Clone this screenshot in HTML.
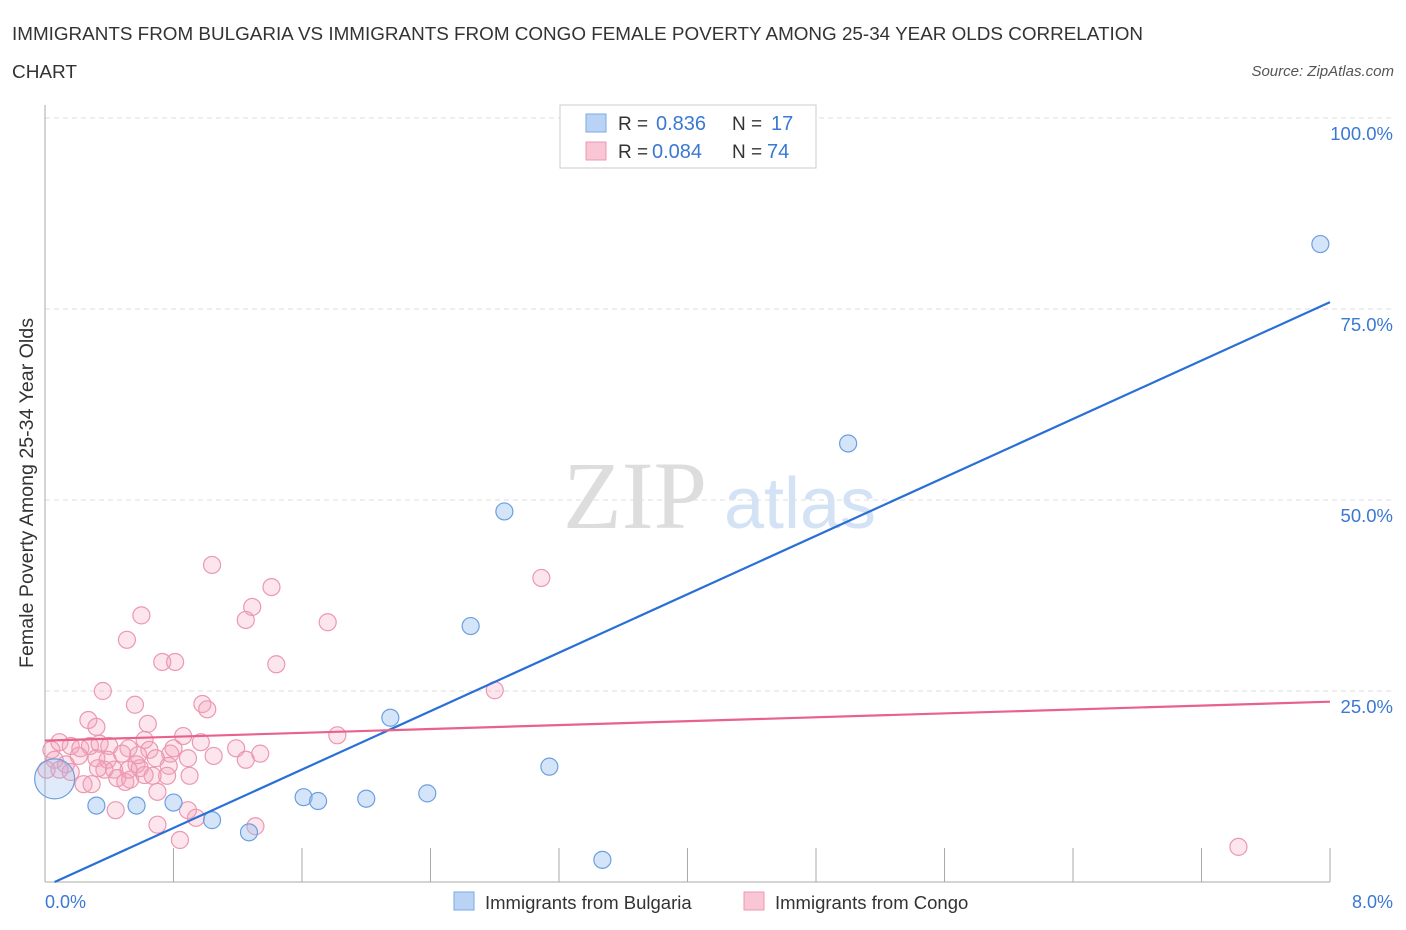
<!DOCTYPE html>
<html><head><meta charset="utf-8"><style>
body{margin:0;background:#fff;font-family:"Liberation Sans",sans-serif;}
svg{display:block}
</style></head><body>
<svg width="1406" height="930" xmlns="http://www.w3.org/2000/svg">
<text x="12" y="40" font-size="18" fill="#333" textLength="1131" lengthAdjust="spacingAndGlyphs">IMMIGRANTS FROM BULGARIA VS IMMIGRANTS FROM CONGO FEMALE POVERTY AMONG 25-34 YEAR OLDS CORRELATION</text>
<text x="12" y="78" font-size="18" fill="#333" textLength="65" lengthAdjust="spacingAndGlyphs">CHART</text>
<text x="1394" y="76" font-size="15" fill="#555" font-style="italic" text-anchor="end">Source: ZipAtlas.com</text>
<text x="635" y="528" font-size="96" fill="#ddd" font-family="Liberation Serif,serif" text-anchor="middle">ZIP</text>
<text x="800" y="528" font-size="72" fill="#d3e2f5" text-anchor="middle">atlas</text>
<g id="grid"></g>
<g id="marks"></g>
<text x="33" y="493" font-size="19" fill="#333" text-anchor="middle" textLength="350" lengthAdjust="spacingAndGlyphs" transform="rotate(-90 33 493)">Female Poverty Among 25-34 Year Olds</text>
<text x="45" y="908" font-size="18" fill="#3a78d4">0.0%</text>
<text x="1393" y="908" font-size="18" fill="#3a78d4" text-anchor="end">8.0%</text>
<g>
<rect x="560" y="105" width="256" height="63" fill="#fff" stroke="#ccc"/>
<rect x="586" y="114" width="20" height="18" fill="#b9d3f5" stroke="#7aa8e6"/>
<rect x="586" y="142" width="20" height="18" fill="#f8c6d4" stroke="#eb98b2"/>
<text x="618" y="130" font-size="19" fill="#333">R =</text>
<text x="656" y="130" font-size="20" fill="#3a78d4">0.836</text>
<text x="732" y="130" font-size="19" fill="#333">N =</text>
<text x="771" y="130" font-size="20" fill="#3a78d4">17</text>
<text x="618" y="158" font-size="19" fill="#333">R =</text>
<text x="652" y="158" font-size="20" fill="#3a78d4">0.084</text>
<text x="732" y="158" font-size="19" fill="#333">N =</text>
<text x="767" y="158" font-size="20" fill="#3a78d4">74</text>
</g>
<g>
<rect x="454" y="892" width="20" height="18" fill="#b9d3f5" stroke="#7aa8e6"/>
<text x="485" y="909" font-size="18.5" fill="#333">Immigrants from Bulgaria</text>
<rect x="744" y="892" width="20" height="18" fill="#f8c6d4" stroke="#eb98b2"/>
<text x="775" y="909" font-size="18.5" fill="#333">Immigrants from Congo</text>
</g>
</svg>
<script>
const yTicks=[25,50,75,100];
const yTickLabels=["25.0%","50.0%","75.0%","100.0%"];
const bulgariaX=[7.94,5.0,2.86,2.65,2.15,3.14,0.32,0.57,0.80,1.04,1.27,1.61,1.70,2.0,2.38,3.47,0.06];
const bulgariaY=[83.5,57.4,48.5,33.5,21.5,15.1,10.0,10.0,10.4,8.1,6.5,11.1,10.6,10.9,11.6,2.9,13.5];
const congoPx=[[212,565],[271,587],[252,607],[142,615],[246,620],[328,622],[127,640],[541,578],[163,662],[175,662],[276,664],[494,690],[103,691],[202,704],[207,709],[135,705],[89,720],[97,727],[148,724],[338,735],[183,736],[145,740],[200,742],[236,748],[260,754],[52,750],[60,742],[70,746],[80,748],[90,746],[100,744],[110,746],[128,748],[150,750],[171,754],[188,758],[213,756],[246,760],[54,760],[66,764],[96,758],[108,760],[122,754],[136,764],[168,766],[47,770],[70,772],[114,770],[140,768],[167,776],[190,776],[83,784],[92,784],[117,778],[125,782],[153,776],[130,780],[158,792],[116,810],[157,825],[180,840],[188,810],[196,818],[255,826],[1238,847],[105,770],[60,770],[78,756],[98,768],[138,755],[156,758],[128,770],[144,775],[174,748]];
const congoX=congoPx.map(p=>+((p[0]-45)/160.6).toFixed(2));
const congoY=congoPx.map(p=>+((882-p[1])/7.64).toFixed(1));
const bulgariaTrend=[0.0,75.9];
const congoTrend=[18.5,23.6];
const NS="http://www.w3.org/2000/svg";
const X0=45,X1=1330,Y0=882,Y1=118;
const sx=v=>X0+v/8*(X1-X0);
const sy=v=>Y0-v/100*(Y0-Y1);
function mk(t,a,parent){const e=document.createElementNS(NS,t);for(const k in a)e.setAttribute(k,a[k]);parent.appendChild(e);return e;}
const grid=document.getElementById('grid'),marks=document.getElementById('marks');
yTicks.forEach((t,i)=>{
 const l=mk('line',{x1:X0,x2:1392,y1:sy(t),y2:sy(t),stroke:'#ddd','stroke-dasharray':'5,4'},grid);
 
 
 const tx=mk('text',{x:1393,y:sy(t)+22,'font-size':18.5,fill:'#3a78d4','text-anchor':'end'},grid);
 tx.textContent=yTickLabels[i];
 
 
});
const ax=mk('line',{x1:X0,x2:X0,y1:105,y2:Y0,stroke:'#aaa'},grid);


const bx=mk('line',{x1:X0,x2:X1,y1:Y0,y2:Y0,stroke:'#aaa'},grid);


for(let i=1;i<=10;i++){const v=i*0.8;const t=mk('line',{x1:sx(v),x2:sx(v),y1:848,y2:Y0,stroke:'#aaa'},grid);
 
 }
congoX.forEach((x,i)=>{const c=mk('circle',{cx:sx(x),cy:sy(congoY[i]),r:8.5,fill:'rgba(244,160,185,0.28)',stroke:'#eb98b2','stroke-width':1.2},marks);
 
 });
bulgariaX.forEach((x,i)=>{const c=mk('circle',{cx:sx(x),cy:sy(bulgariaY[i]),r:i==16?20:8.5,fill:i==16?'rgba(150,190,240,0.3)':'rgba(150,190,240,0.4)',stroke:'#6c9fe0','stroke-width':1.2},marks);
 
 });
const bl=mk('line',{x1:sx(0.06),y1:sy(bulgariaTrend[0]),x2:sx(8),y2:sy(bulgariaTrend[1]),stroke:'#2a6fd6','stroke-width':2.2},marks);


const pl=mk('line',{x1:sx(0),y1:sy(congoTrend[0]),x2:sx(8),y2:sy(congoTrend[1]),stroke:'#e8628c','stroke-width':2.2},marks);


</script>
</body></html>
